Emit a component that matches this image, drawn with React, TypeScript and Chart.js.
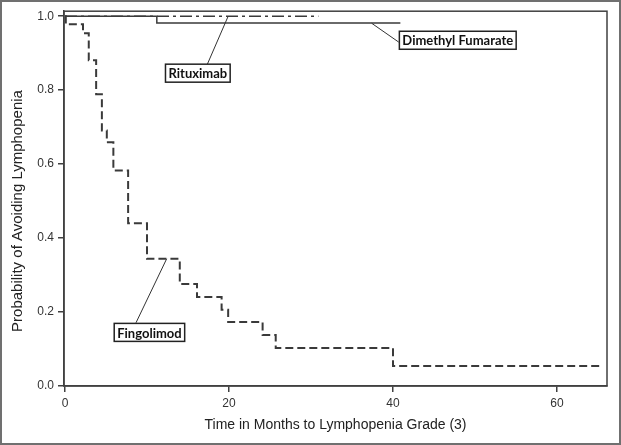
import React, { useEffect, useRef } from "react";
import { Chart, registerables } from "chart.js";

Chart.register(...registerables);

// ---- tick labels ----
const xTickValues = [0, 20, 40, 60];
const yTickValues = [0, 0.2, 0.4, 0.6, 0.8, 1.0];

// ---- series (Kaplan-Meier steps: time of event, survival after event) ----
const fingolimodTimes = [0, 0.1, 2.2, 2.9, 3.8, 4.5, 5.1, 5.9, 7.7, 10.0, 14.0, 16.1, 19.1, 19.9, 24.1, 25.7, 40.0, 65.5];
const fingolimodSurvival = [1.0, 0.978, 0.954, 0.881, 0.789, 0.691, 0.659, 0.583, 0.44, 0.344, 0.276, 0.241, 0.206, 0.173, 0.138, 0.103, 0.054, 0.054];

const dmfTimes = [0, 11.2, 40.9];
const dmfSurvival = [1.0, 0.982, 0.982];

const rituximabTimes = [0, 30.9];
const rituximabSurvival = [1.0, 1.0];

// ---- label callouts (data coordinates) ----
const calloutNames = ["Rituximab", "Dimethyl Fumarate", "Fingolimod"];
const calloutCenterX = [16.2, 47.9, 10.3];
const calloutCenterY = [0.846, 0.935, 0.145];
const leaderStartX = [17.3, 40.7, 8.66];
const leaderStartY = [0.867, 0.93, 0.171];
const leaderEndX = [19.9, 37.4, 12.4];
const leaderEndY = [1.0, 0.981, 0.344];

const xTitle = "Time in Months to Lymphopenia Grade (3)";
const yTitle = "Probability of Avoiding Lymphopenia";

const toPoints = (xs: number[], ys: number[]) => xs.map((x, i) => ({ x, y: ys[i] }));

const decorPlugin = {
  id: "decor",
  afterDraw(chart: any) {
    const { ctx, chartArea, scales } = chart;
    const xs = scales.x;
    const ys = scales.y;
    ctx.save();
    // plot frame
    ctx.strokeStyle = "#404040";
    ctx.lineWidth = 1.5;
    ctx.strokeRect(chartArea.left, chartArea.top, chartArea.right - chartArea.left, chartArea.bottom - chartArea.top);
    // outer frame
    ctx.strokeStyle = "#707070";
    ctx.lineWidth = 2;
    ctx.strokeRect(1, 1, chart.width - 2, chart.height - 2);

    // axis titles
    ctx.fillStyle = "#222";
    ctx.font = "14px 'Liberation Sans', Arial, sans-serif";
    ctx.textAlign = "center";
    ctx.textBaseline = "middle";
    ctx.fillText(xTitle, (chartArea.left + chartArea.right) / 2, 425);
    ctx.save();
    ctx.translate(18, 211);
    ctx.rotate(-Math.PI / 2);
    ctx.font = "15px 'Liberation Sans', Arial, sans-serif";
    ctx.fillText(yTitle, 0, 0);
    ctx.restore();

    // callouts
    ctx.font = "bold 13px Lato, 'Liberation Sans', sans-serif";
    for (let i = 0; i < calloutNames.length; i++) {
      ctx.strokeStyle = "#333";
      ctx.lineWidth = 1;
      ctx.beginPath();
      ctx.moveTo(xs.getPixelForValue(leaderStartX[i]), ys.getPixelForValue(leaderStartY[i]));
      ctx.lineTo(xs.getPixelForValue(leaderEndX[i]), ys.getPixelForValue(leaderEndY[i]));
      ctx.stroke();
      const cx = xs.getPixelForValue(calloutCenterX[i]);
      const cy = ys.getPixelForValue(calloutCenterY[i]);
      const w = ctx.measureText(calloutNames[i]).width + 6;
      const h = 18;
      ctx.fillStyle = "#fff";
      ctx.fillRect(cx - w / 2, cy - h / 2, w, h);
      ctx.strokeStyle = "#222";
      ctx.lineWidth = 1.5;
      ctx.strokeRect(cx - w / 2, cy - h / 2, w, h);
      ctx.fillStyle = "#111";
      ctx.fillText(calloutNames[i], cx, cy + 1);
    }
    ctx.restore();
  },
};

export default function App() {
  const ref = useRef<HTMLCanvasElement>(null);
  useEffect(() => {
    if (!ref.current) return;
    Chart.defaults.font.family = "'Liberation Sans', Arial, sans-serif";
    const lineColor = "#3a3a3a";
    const chart = new Chart(ref.current, {
      type: "line",
      data: {
        datasets: [
          {
            label: "Dimethyl Fumarate",
            data: toPoints(dmfTimes, dmfSurvival),
            borderColor: lineColor,
            borderWidth: 1.5,
            stepped: true,
            pointRadius: 0,
            fill: false,
          },
          {
            label: "Rituximab",
            data: toPoints(rituximabTimes, rituximabSurvival),
            borderColor: lineColor,
            borderWidth: 1.5,
            borderDash: [12, 4, 3, 4],
            stepped: true,
            pointRadius: 0,
            fill: false,
          },
          {
            label: "Fingolimod",
            data: toPoints(fingolimodTimes, fingolimodSurvival),
            borderColor: lineColor,
            borderWidth: 2,
            borderDash: [8, 4],
            stepped: true,
            pointRadius: 0,
            fill: false,
          },
        ],
      },
      options: {
        animation: false,
        responsive: false,
        layout: { padding: { top: 11, right: 14, left: 0, bottom: 0 } },
        plugins: { legend: { display: false }, tooltip: { enabled: false }, title: { display: false } },
        scales: {
          x: {
            type: "linear",
            min: -0.12,
            max: 66.1,
            afterFit: (s: any) => {
              s.height = 59;
            },
            afterBuildTicks: (s: any) => {
              s.ticks = xTickValues.map((v) => ({ value: v }));
            },
            ticks: { color: "#333", font: { size: 12 }, padding: 4, maxRotation: 0 },
            grid: { drawOnChartArea: false, drawTicks: true, tickLength: 6, color: "#404040", lineWidth: 1.5 },
            border: { display: true, color: "#404040", width: 1.5 },
          },
          y: {
            type: "linear",
            min: 0,
            max: 1.0136,
            afterFit: (s: any) => {
              s.width = 64;
            },
            afterBuildTicks: (s: any) => {
              s.ticks = yTickValues.map((v) => ({ value: v }));
            },
            ticks: {
              color: "#333",
              font: { size: 12 },
              padding: 4,
              callback: (v: any) => Number(v).toFixed(1),
            },
            grid: { drawOnChartArea: false, drawTicks: true, tickLength: 6, color: "#404040", lineWidth: 1.5 },
            border: { display: true, color: "#404040", width: 1.5 },
          },
        },
      },
      plugins: [decorPlugin],
    });
    return () => chart.destroy();
  }, []);
  return (
    <div style={{ position: "absolute", left: 0, top: 0, width: 621, height: 445, background: "#fff" }}>
      <canvas ref={ref} width={621} height={445} style={{ display: "block" }} />
    </div>
  );
}
